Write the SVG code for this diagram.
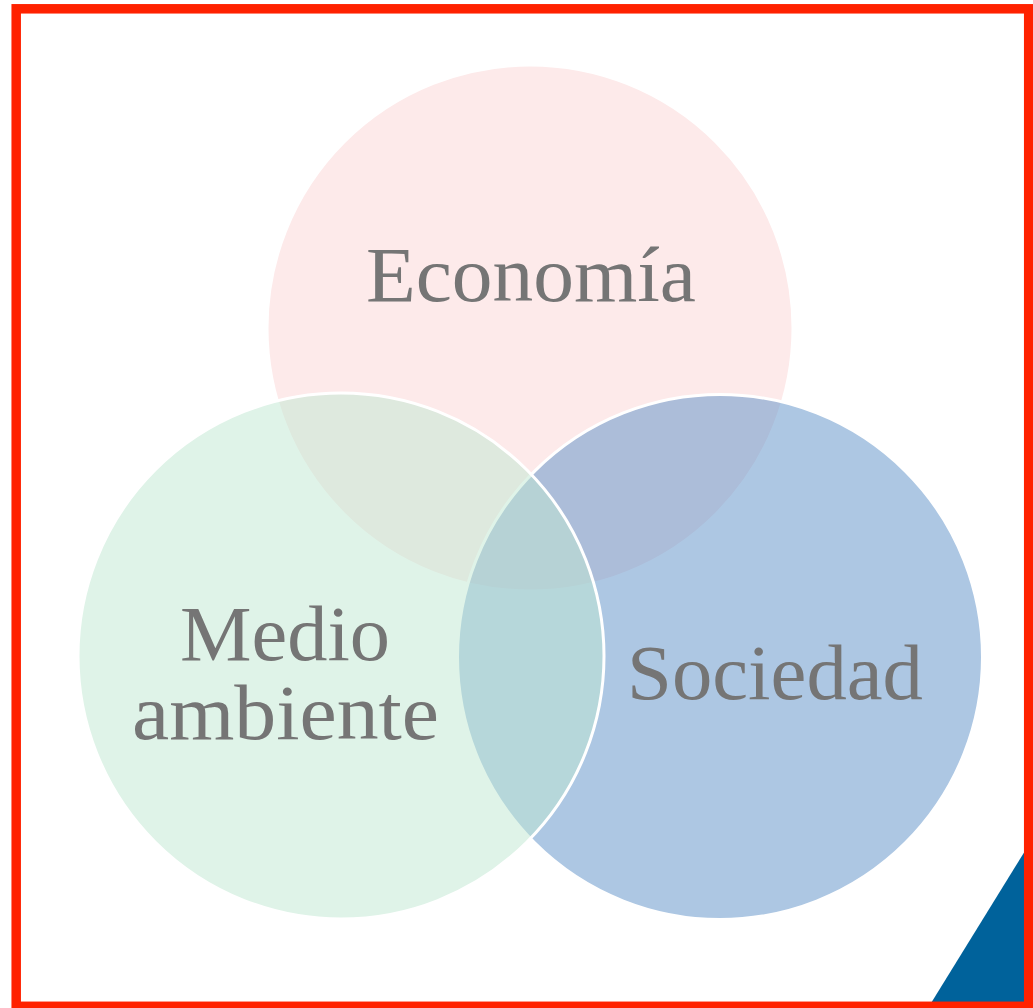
<svg xmlns="http://www.w3.org/2000/svg" width="1033" height="1008" viewBox="0 0 1033 1008">
<style>
.c{stroke:#ffffff;stroke-width:3}
.t{font-family:"Liberation Serif","Times New Roman",serif;font-size:78px;fill:#757575;text-anchor:middle}
</style>
<rect width="1033" height="1008" fill="#ffffff"/>
<g id="economia">
<circle class="c" cx="530" cy="328" r="263" fill="#fbd5d5" fill-opacity="0.5"/>
</g>
<g id="sociedad">
<circle class="c" cx="720" cy="657" r="262.5" fill="#5b8fc7" fill-opacity="0.5"/>
</g>
<g id="medio-ambiente">
<circle class="c" cx="341" cy="656" r="263" fill="#bfe7d1" fill-opacity="0.5"/>
</g>
<g id="labels">
<text class="t" x="531" y="301" textLength="330" lengthAdjust="spacingAndGlyphs">Economía</text>
<text class="t" x="775" y="699" textLength="296" lengthAdjust="spacingAndGlyphs">Sociedad</text>
<text class="t" x="285" y="660" textLength="210" lengthAdjust="spacingAndGlyphs">Medio</text>
<text class="t" x="285.5" y="739" textLength="307" lengthAdjust="spacingAndGlyphs">ambiente</text>
</g>
<g id="connectors"></g>
<polygon points="928,1008 1033,838 1033,1008" fill="#00629b"/>
<rect x="16.2" y="8.8" width="1012.5" height="997.5" fill="none" stroke="#ff2200" stroke-width="9.5"/>
</svg>
